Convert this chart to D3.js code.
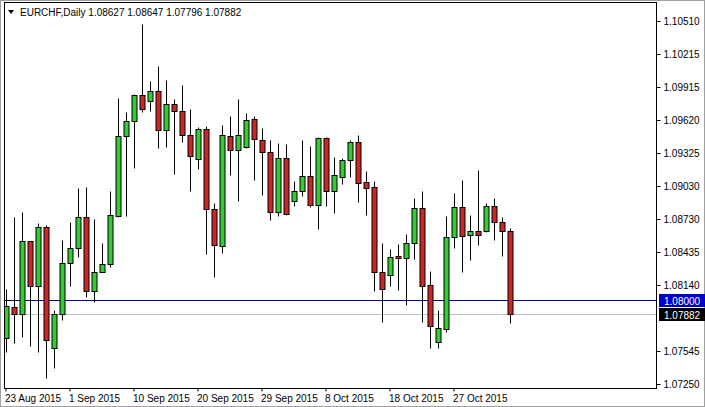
<!doctype html>
<html>
<head>
<script type='text/javascript' src='https://d3js.org/d3.v7.min.js'></script>
<style>
body { margin: 0; background: #fff; }
text { font-family: "Liberation Sans", Arial, sans-serif; }
</style>
</head>
<body>
<script>
var width = 705, height = 407;
// plot frame
var pLeft = 4, pRight = 656, pTop = 2, pBottom = 388;

// daily bars (broker sends Sunday bars too)
var dates = [
 "2015-08-23","2015-08-24","2015-08-25","2015-08-26","2015-08-27","2015-08-28","2015-08-30","2015-08-31",
 "2015-09-01","2015-09-02","2015-09-03","2015-09-04","2015-09-06","2015-09-07","2015-09-08","2015-09-09",
 "2015-09-10","2015-09-11","2015-09-13","2015-09-14","2015-09-15","2015-09-16","2015-09-17","2015-09-18",
 "2015-09-20","2015-09-21","2015-09-22","2015-09-23","2015-09-24","2015-09-25","2015-09-27","2015-09-28",
 "2015-09-29","2015-09-30","2015-10-01","2015-10-02","2015-10-04","2015-10-05","2015-10-06","2015-10-07",
 "2015-10-08","2015-10-09","2015-10-11","2015-10-12","2015-10-13","2015-10-14","2015-10-15","2015-10-16",
 "2015-10-18","2015-10-19","2015-10-20","2015-10-21","2015-10-22","2015-10-23","2015-10-25","2015-10-26",
 "2015-10-27","2015-10-28","2015-10-29","2015-10-30","2015-11-01","2015-11-02","2015-11-03","2015-11-04"
];
var opens = [
 1.07661,1.07939,1.07879,1.08531,1.08130,1.08657,1.07577,1.07876,1.08334,1.08468,
 1.08747,1.08088,1.08259,1.08325,1.08761,1.09473,1.09608,1.09841,1.09787,1.09877,
 1.09527,1.09760,1.09697,1.09482,1.09267,1.09536,1.08818,1.08486,1.09473,1.09347,
 1.09380,1.09626,1.09437,1.09330,1.08791,1.09276,1.08890,1.08980,1.09114,1.08854,
 1.09455,1.08980,1.09105,1.09258,1.09419,1.09060,1.09016,1.08253,1.08226,1.08397,
 1.08379,1.08513,1.08827,1.08137,1.07625,1.07742,1.08567,1.08836,1.08585,1.08621,
 1.08621,1.08845,1.08702,1.08627
];
var highs = [
 1.08101,1.08747,1.08794,1.08537,1.08693,1.08675,1.07915,1.08543,1.08702,1.09012,
 1.09016,1.08731,1.08516,1.08982,1.09819,1.09691,1.09850,1.10480,1.09969,1.10106,
 1.09978,1.09808,1.09933,1.09718,1.09554,1.09563,1.08872,1.09572,1.09658,1.09805,
 1.09679,1.09653,1.09545,1.09437,1.09410,1.09401,1.09072,1.09437,1.09383,1.09464,
 1.09464,1.09285,1.09276,1.09437,1.09482,1.09159,1.09069,1.08513,1.08459,1.08504,
 1.08594,1.08917,1.08980,1.08262,1.07912,1.08756,1.08962,1.09078,1.08764,1.09168,
 1.08872,1.08917,1.08747,1.08647
];
var lows = [
 1.07536,1.07616,1.07676,1.07595,1.07541,1.07308,1.07397,1.07825,1.08133,1.08393,
 1.08034,1.07984,1.08253,1.08303,1.08750,1.08761,1.09191,1.09688,1.09700,1.09371,
 1.09380,1.09138,1.09425,1.08985,1.09182,1.08415,1.08214,1.08429,1.09129,1.08895,
 1.09365,1.09084,1.08944,1.08720,1.08756,1.08765,1.08845,1.08935,1.08836,1.08639,
 1.08845,1.08782,1.09043,1.09105,1.08881,1.08764,1.08083,1.07805,1.08128,1.08092,
 1.07957,1.08370,1.07805,1.07571,1.07571,1.07715,1.08468,1.08253,1.08361,1.08495,
 1.08612,1.08540,1.08397,1.07796
];
var closes = [
 1.07951,1.07879,1.08531,1.08130,1.08657,1.07646,1.07876,1.08334,1.08468,1.08747,
 1.08088,1.08253,1.08325,1.08764,1.09473,1.09608,1.09841,1.09715,1.09877,1.09527,
 1.09760,1.09697,1.09482,1.09294,1.09536,1.08818,1.08495,1.09482,1.09347,1.09482,
 1.09617,1.09446,1.09330,1.08791,1.09276,1.08773,1.08980,1.09114,1.08854,1.09455,
 1.08980,1.09123,1.09258,1.09419,1.09052,1.09007,1.08253,1.08101,1.08388,1.08379,
 1.08513,1.08827,1.08128,1.07769,1.07751,1.08567,1.08836,1.08576,1.08621,1.08585,
 1.08845,1.08702,1.08621,1.07882
];
// 1.07840 sits under the last-price box, so it is left out
var priceTicks = [1.10510,1.10215,1.09915,1.09620,1.09325,1.09030,1.08730,1.08435,1.08140,1.07545,1.07250];
var dateTicks = ["2015-08-23","2015-09-01","2015-09-10","2015-09-20","2015-09-29","2015-10-08","2015-10-18","2015-10-27"];
var levelLine = 1.08000;   // horizontal line drawn on chart
var title = "EURCHF,Daily";

var parse = d3.timeParse("%Y-%m-%d");
var fmtDate = d3.timeFormat("%-d %b %Y");

var bars = dates.map(function(d, i) {
  return {date: d, o: opens[i], h: highs[i], l: lows[i], c: closes[i]};
});
var last = bars[bars.length - 1];

var svg = d3.select('body').append('svg').attr('width', width).attr('height', height);

svg.append('rect').attr('x', 0.5).attr('y', 0.5).attr('width', width - 1).attr('height', height - 1)
  .attr('fill', '#fff').attr('stroke', '#a0a0a0');

var x = d3.scaleBand().domain(dates).range([1.5, 1.5 + 8 * dates.length]).padding(0);
var y = d3.scaleLinear().domain([1.07250, 1.10510]).range([384, 20.7]);
function cx(d) { return Math.round(x(d) + x.bandwidth() / 2) + 0.5; }
function py(v) { return Math.round(y(v)) + 0.5; }

svg.append('clipPath').attr('id', 'plot').append('rect')
  .attr('x', pLeft + 1).attr('y', pTop + 1).attr('width', pRight - pLeft - 1).attr('height', pBottom - pTop - 1);

var plot = svg.append('g').attr('clip-path', 'url(#plot)');

// reference lines
plot.append('line').attr('x1', pLeft).attr('x2', pRight)
  .attr('y1', py(last.c)).attr('y2', py(last.c)).attr('stroke', '#c0c0c0');
plot.append('line').attr('x1', pLeft).attr('x2', pRight)
  .attr('y1', py(levelLine)).attr('y2', py(levelLine)).attr('stroke', '#000080');

var candle = plot.selectAll('g.candle').data(bars).join('g').attr('class', 'candle');
candle.append('line')
  .attr('x1', function(d) { return cx(d.date); })
  .attr('x2', function(d) { return cx(d.date); })
  .attr('y1', function(d) { return py(d.h); })
  .attr('y2', function(d) { return py(d.l); })
  .attr('stroke', '#000');
candle.append('rect')
  .attr('x', function(d) { return cx(d.date) - 2.5; })
  .attr('y', function(d) { return py(Math.max(d.o, d.c)); })
  .attr('width', 5)
  .attr('height', function(d) { return Math.max(1, py(Math.min(d.o, d.c)) - py(Math.max(d.o, d.c))); })
  .attr('fill', function(d) { return d.c >= d.o ? '#32cd32' : '#cd2626'; })
  .attr('stroke', '#000');

// frame
svg.append('rect').attr('x', pLeft + 0.5).attr('y', pTop + 0.5)
  .attr('width', pRight - pLeft).attr('height', pBottom - pTop)
  .attr('fill', 'none').attr('stroke', '#000');

// price scale
var yAxis = d3.axisRight(y).tickValues(priceTicks).tickSize(4).tickPadding(3)
  .tickFormat(function(d) { return d.toFixed(5); });
var ya = svg.append('g').attr('transform', 'translate(' + (pRight + 0.5) + ',0)').call(yAxis);
ya.select('.domain').remove();
ya.selectAll('.tick').attr('transform', function(d) { return 'translate(0,' + py(d) + ')'; });
ya.selectAll('text').attr('font-size', 10).attr('fill', '#000').attr('font-family', '"Liberation Sans", Arial, sans-serif');

// price labels for level line and last close
function priceBox(v, bg) {
  var g = svg.append('g').attr('transform', 'translate(' + (pRight + 1) + ',' + py(v) + ')');
  g.append('rect').attr('x', 2).attr('y', -6.5).attr('width', 46).attr('height', 13).attr('fill', bg);
  g.append('text').attr('x', 7).attr('y', 4).attr('font-size', 10).attr('fill', '#fff').text(v.toFixed(5));
}
priceBox(levelLine, '#0000c8');
priceBox(last.c, '#000');

// date scale
var xAxis = d3.axisBottom(x).tickValues(dateTicks).tickSize(3).tickSizeOuter(0)
  .tickFormat(function(d) { return fmtDate(parse(d)); });
var xa = svg.append('g').attr('transform', 'translate(0,' + (pBottom + 0.5) + ')').call(xAxis);
xa.select('.domain').remove();
xa.selectAll('.tick').attr('transform', function(d) { return 'translate(' + (cx(d) - 0.5) + ',0)'; });
xa.selectAll('text').attr('text-anchor', 'start').attr('x', -1).attr('dy', 0).attr('y', 13)
  .attr('font-size', 10).attr('fill', '#000').attr('font-family', '"Liberation Sans", Arial, sans-serif');

// header
svg.append('path').attr('d', 'M8,10 L14,10 L11,14 Z').attr('fill', '#000');
svg.append('text').attr('x', 20).attr('y', 16).attr('font-size', 10).attr('fill', '#000')
  .text(title + '  ' + [last.o, last.h, last.l, last.c].map(function(v) { return v.toFixed(5); }).join(' '));
</script>
</body>
</html>
